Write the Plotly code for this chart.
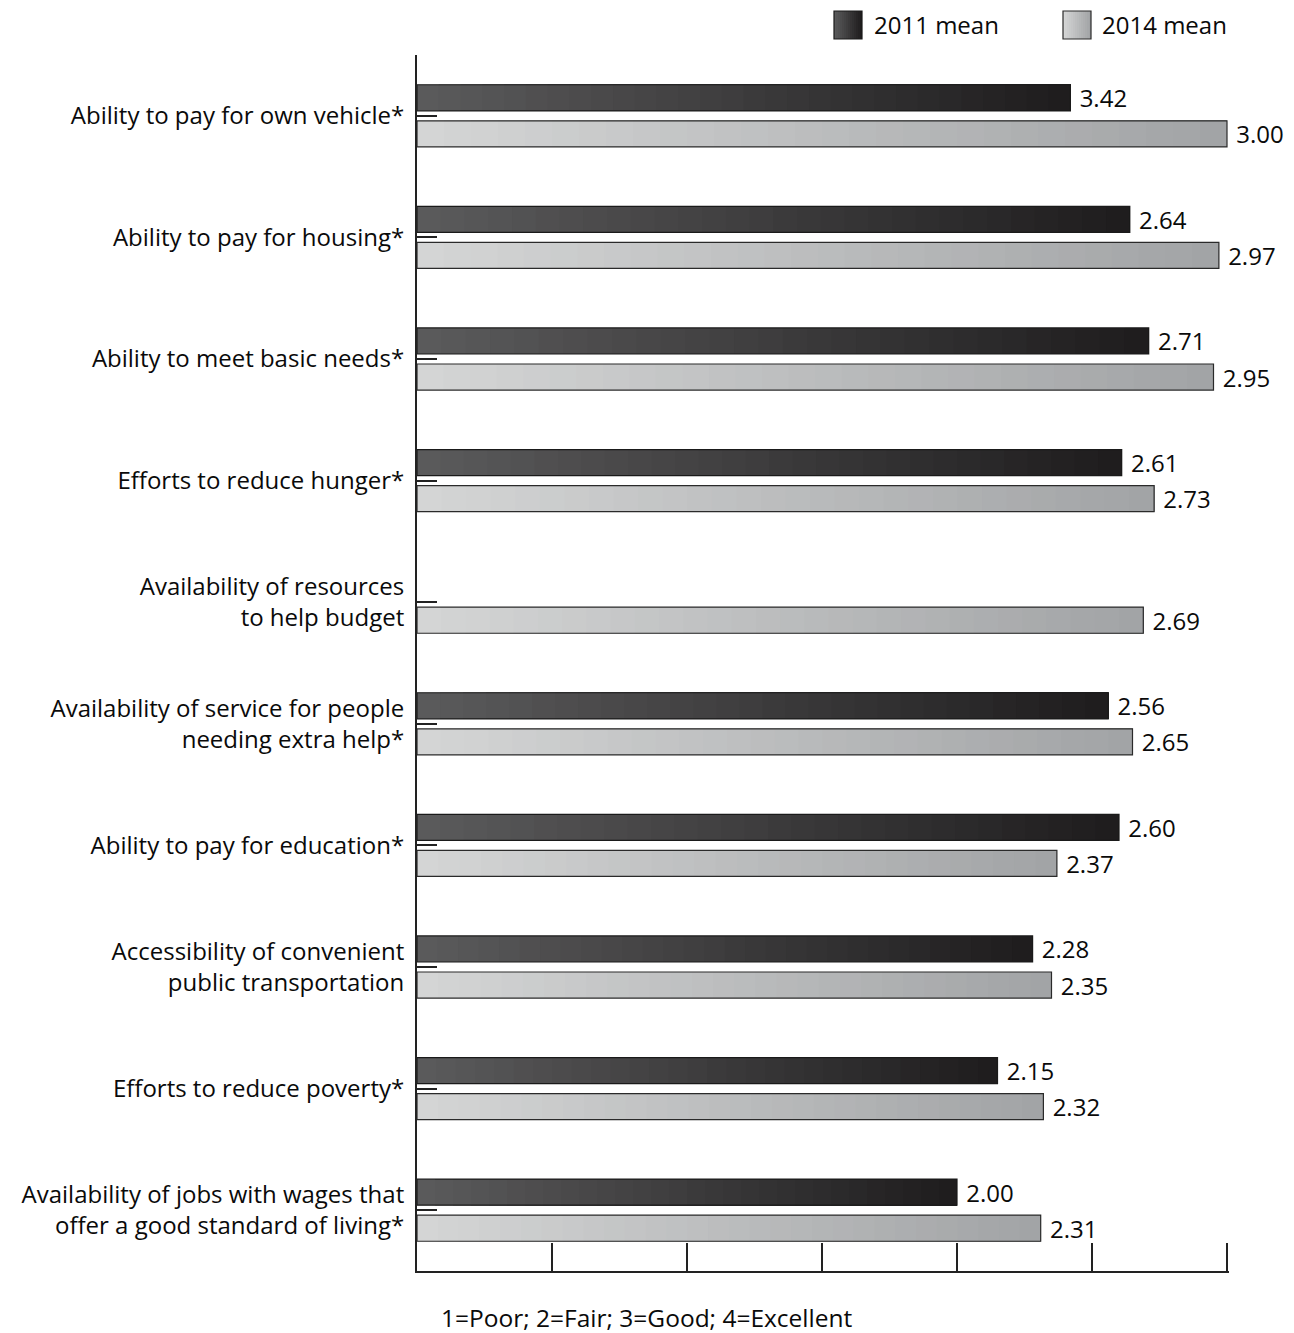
import plotly.graph_objects as go

# ---------------- data ----------------
categories = [
    "Ability to pay for own vehicle*",
    "Ability to pay for housing*",
    "Ability to meet basic needs*",
    "Efforts to reduce hunger*",
    "Availability of resources<br>to help budget",
    "Availability of service for people<br>needing extra help*",
    "Ability to pay for education*",
    "Accessibility of convenient<br>public transportation",
    "Efforts to reduce poverty*",
    "Availability of jobs with wages that<br>offer a good standard of living*",
]
# bar lengths as drawn in the source (first 2011 bar is drawn at 2.42 though labelled 3.42)
bars_2011 = [2.42, 2.64, 2.71, 2.61, None, 2.56, 2.60, 2.28, 2.15, 2.00]
labels_2011 = ["3.42", "2.64", "2.71", "2.61", "", "2.56", "2.60", "2.28", "2.15", "2.00"]
bars_2014 = [3.00, 2.97, 2.95, 2.73, 2.69, 2.65, 2.37, 2.35, 2.32, 2.31]
labels_2014 = ["3.00", "2.97", "2.95", "2.73", "2.69", "2.65", "2.37", "2.35", "2.32", "2.31"]
series_names = ["2011 mean", "2014 mean"]
x_ticks = [0, 0.5, 1.0, 1.5, 2.0, 2.5, 3.0]
x_note = "1=Poor; 2=Fair; 3=Good; 4=Excellent"

# ---------------- style ----------------
FONT = "Open Sans"
FS = 24
W, H = 1294, 1333
L, R, T, B = 417, 65, 55, 62
X_MAX = 3.0074  # a hair past 3 so the end tick is drawn
DARK = ((0x5a, 0x5a, 0x5b), (0x1f, 0x1d, 0x1e), "#1a1a1a")
LIGHT = ((0xd4, 0xd5, 0xd5), (0xa2, 0xa4, 0xa6), "#2a2a2a")
TXT = "#0a0a0a"
K = 30


def lerp(c1, c2, t):
    return "rgb(%d,%d,%d)" % tuple(round(a + (b - a) * t) for a, b in zip(c1, c2))


fig = go.Figure()

for vals, texts, grp, (c_left, c_right, c_line) in [
    (bars_2011, labels_2011, "g2011", DARK),
    (bars_2014, labels_2014, "g2014", LIGHT),
]:
    for k in range(K):
        base = [None if v is None else v * k / K for v in vals]
        length = [None if v is None else v - b for v, b in zip(vals, base)]
        fig.add_trace(go.Bar(
            y=categories, x=length, base=base, orientation="h",
            offsetgroup=grp,
            marker=dict(color=lerp(c_left, c_right, k / (K - 1)), line=dict(width=0)),
            showlegend=False, hoverinfo="skip",
        ))
    fig.add_trace(go.Bar(
        y=categories, x=vals, orientation="h", offsetgroup=grp,
        marker=dict(color="rgba(0,0,0,0)", line=dict(color=c_line, width=1.2)),
        text=[" " + t if t else "" for t in texts],
        textposition="outside", constraintext="none", cliponaxis=False,
        textfont=dict(family=FONT, size=FS, color=TXT),
        showlegend=False, hoverinfo="skip",
    ))

pw = W - L - R
ph = H - T - B


def px(x):
    return (x - L) / pw


def py(y):
    return (H - B - y) / ph


shapes = []
annotations = []
# manual legend with gradient squares
for name, (c_left, c_right, c_line), x0, tx in [
    (series_names[0], DARK, 834, 872),
    (series_names[1], LIGHT, 1063, 1100),
]:
    n = 14
    for k in range(n):
        shapes.append(dict(type="rect", xref="paper", yref="paper",
                           x0=px(x0 + 28 * k / n), x1=px(x0 + 28), y0=py(39), y1=py(11),
                           fillcolor=lerp(c_left, c_right, k / (n - 1)), line=dict(width=0)))
    shapes.append(dict(type="rect", xref="paper", yref="paper",
                       x0=px(x0), x1=px(x0 + 28), y0=py(39), y1=py(11),
                       fillcolor="rgba(0,0,0,0)", line=dict(color=c_line, width=1.2)))
    annotations.append(dict(text=name, xref="paper", yref="paper", x=px(tx), y=py(25),
                            xanchor="left", yanchor="middle", showarrow=False,
                            font=dict(family=FONT, size=FS, color=TXT)))

annotations.append(dict(text=x_note, xref="paper", yref="paper", x=px(647), y=py(1317),
                        xanchor="center", yanchor="middle", showarrow=False,
                        font=dict(family=FONT, size=FS + 0.5, color=TXT)))

fig.update_layout(
    width=W, height=H,
    margin=dict(l=L, r=R, t=T, b=B, autoexpand=False),
    paper_bgcolor="white", plot_bgcolor="white",
    barmode="group", bargap=0.407, bargroupgap=0.278,
    font=dict(family=FONT, size=FS, color=TXT),
    shapes=shapes, annotations=annotations,
    showlegend=False,
    xaxis=dict(range=[0, X_MAX], tickvals=x_ticks, showticklabels=False,
               ticks="inside", ticklen=28, tickwidth=2, tickcolor="#222",
               showline=True, linewidth=2, linecolor="#222",
               showgrid=False, zeroline=False, fixedrange=True),
    yaxis=dict(categoryorder="array", categoryarray=categories,
               range=[9.5, -0.5], automargin=False,
               ticks="inside", ticklen=20, tickwidth=2, tickcolor="#222",
               showline=True, linewidth=2, linecolor="#222",
               showgrid=False, zeroline=False, ticklabelstandoff=6,
               tickfont=dict(family=FONT, size=FS, color=TXT)),
)

fig.write_html("out.html", config={"displayModeBar": False},
               post_script="document.body.style.margin='0px';")
